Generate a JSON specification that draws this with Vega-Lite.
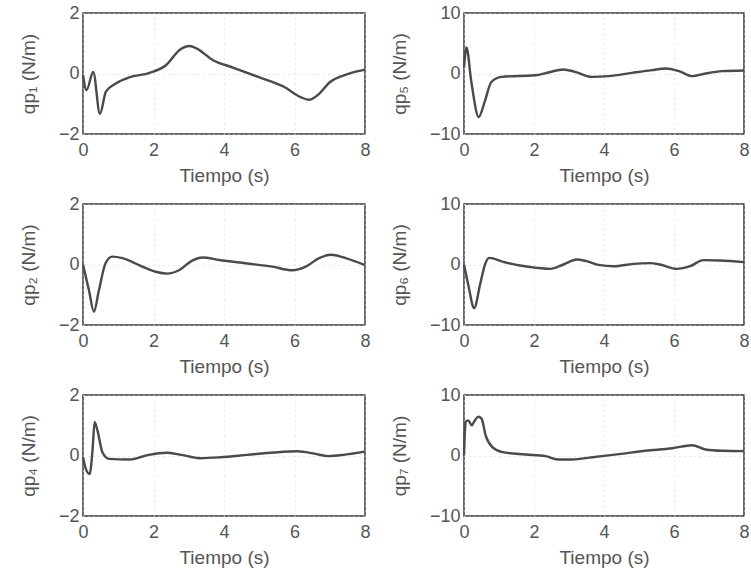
{
  "$schema": "https://vega.github.io/schema/vega-lite/v6.json",
  "background": "white",
  "padding": {"left": 18, "top": 3, "right": 2, "bottom": 2},
  "datasets": {
    "qp1": [
      {"t": 0, "v": -0.05}, {"t": 0.1, "v": -0.55}, {"t": 0.29, "v": 0.05}, {"t": 0.48, "v": -1.33},
      {"t": 0.65, "v": -0.6}, {"t": 0.93, "v": -0.33}, {"t": 1.31, "v": -0.13}, {"t": 1.89, "v": 0.02},
      {"t": 2.36, "v": 0.28}, {"t": 2.74, "v": 0.78}, {"t": 3.03, "v": 0.91}, {"t": 3.22, "v": 0.83},
      {"t": 3.69, "v": 0.44}, {"t": 4.27, "v": 0.19}, {"t": 5.03, "v": -0.14}, {"t": 5.7, "v": -0.44},
      {"t": 6.17, "v": -0.78}, {"t": 6.41, "v": -0.87}, {"t": 6.65, "v": -0.72}, {"t": 7.01, "v": -0.28},
      {"t": 7.5, "v": -0.02}, {"t": 8, "v": 0.13}
    ],
    "qp5": [
      {"t": 0, "v": 1}, {"t": 0.07, "v": 4.3}, {"t": 0.21, "v": -1.4}, {"t": 0.42, "v": -7.2},
      {"t": 0.59, "v": -4.7}, {"t": 0.78, "v": -1.4}, {"t": 1.07, "v": -0.55}, {"t": 2.03, "v": -0.3},
      {"t": 2.41, "v": 0.17}, {"t": 2.84, "v": 0.67}, {"t": 3.17, "v": 0.28}, {"t": 3.65, "v": -0.55},
      {"t": 4.13, "v": -0.44}, {"t": 4.8, "v": 0.11}, {"t": 5.37, "v": 0.56}, {"t": 5.76, "v": 0.83},
      {"t": 6.14, "v": 0.39}, {"t": 6.52, "v": -0.44}, {"t": 6.9, "v": 0}, {"t": 7.38, "v": 0.39},
      {"t": 8, "v": 0.5}
    ],
    "qp2": [
      {"t": 0, "v": 0}, {"t": 0.17, "v": -0.86}, {"t": 0.31, "v": -1.56}, {"t": 0.45, "v": -0.86},
      {"t": 0.64, "v": 0.04}, {"t": 0.83, "v": 0.26}, {"t": 1.12, "v": 0.21}, {"t": 1.59, "v": -0.02},
      {"t": 2.06, "v": -0.24}, {"t": 2.39, "v": -0.3}, {"t": 2.72, "v": -0.19}, {"t": 3.1, "v": 0.13},
      {"t": 3.39, "v": 0.23}, {"t": 3.86, "v": 0.15}, {"t": 4.61, "v": 0.04}, {"t": 5.37, "v": -0.07},
      {"t": 5.94, "v": -0.19}, {"t": 6.32, "v": -0.07}, {"t": 6.7, "v": 0.21}, {"t": 7.03, "v": 0.32},
      {"t": 7.45, "v": 0.21}, {"t": 8, "v": -0.02}
    ],
    "qp6": [
      {"t": 0, "v": 0}, {"t": 0.12, "v": -3.3}, {"t": 0.29, "v": -7.2}, {"t": 0.46, "v": -3.3},
      {"t": 0.6, "v": 0}, {"t": 0.72, "v": 1.1}, {"t": 1.12, "v": 0.44}, {"t": 1.6, "v": -0.17},
      {"t": 2.08, "v": -0.56}, {"t": 2.46, "v": -0.72}, {"t": 2.84, "v": 0}, {"t": 3.22, "v": 0.83},
      {"t": 3.5, "v": 0.56}, {"t": 3.89, "v": -0.11}, {"t": 4.27, "v": -0.28}, {"t": 4.84, "v": 0.11},
      {"t": 5.31, "v": 0.22}, {"t": 5.6, "v": 0}, {"t": 6.08, "v": -0.72}, {"t": 6.46, "v": -0.28},
      {"t": 6.84, "v": 0.72}, {"t": 7.31, "v": 0.67}, {"t": 8, "v": 0.39}
    ],
    "qp4": [
      {"t": 0, "v": -0.06}, {"t": 0.08, "v": -0.44}, {"t": 0.19, "v": -0.61}, {"t": 0.27, "v": 0.17},
      {"t": 0.33, "v": 1.11}, {"t": 0.41, "v": 0.83}, {"t": 0.55, "v": 0.11}, {"t": 0.74, "v": -0.11},
      {"t": 1.32, "v": -0.13}, {"t": 1.79, "v": 0}, {"t": 2.37, "v": 0.09}, {"t": 2.75, "v": 0.03},
      {"t": 3.32, "v": -0.09}, {"t": 3.9, "v": -0.06}, {"t": 4.66, "v": 0.02}, {"t": 5.42, "v": 0.1},
      {"t": 6.09, "v": 0.14}, {"t": 6.57, "v": 0.06}, {"t": 6.95, "v": -0.02}, {"t": 7.43, "v": 0.03},
      {"t": 8, "v": 0.13}
    ],
    "qp7": [
      {"t": 0, "v": 0}, {"t": 0.03, "v": 4.5}, {"t": 0.05, "v": 5.6}, {"t": 0.12, "v": 5.8},
      {"t": 0.22, "v": 5}, {"t": 0.31, "v": 5.8}, {"t": 0.41, "v": 6.4}, {"t": 0.5, "v": 6.1},
      {"t": 0.62, "v": 3.3}, {"t": 0.81, "v": 1.4}, {"t": 1.1, "v": 0.56}, {"t": 1.76, "v": 0.17},
      {"t": 2.33, "v": -0.11}, {"t": 2.71, "v": -0.67}, {"t": 3.1, "v": -0.67}, {"t": 3.67, "v": -0.28},
      {"t": 4.43, "v": 0.22}, {"t": 5.19, "v": 0.78}, {"t": 5.95, "v": 1.2}, {"t": 6.52, "v": 1.7},
      {"t": 6.9, "v": 1.0}, {"t": 7.38, "v": 0.78}, {"t": 8, "v": 0.72}
    ]
  },
  "spacing": 8,
  "vconcat": [
    {
      "spacing": 18,
      "hconcat": [
        {
          "width": 282, "height": 121,
          "data": {"name": "qp1"},
          "mark": {"type": "line"},
          "encoding": {
            "x": {"field": "t", "type": "quantitative", "scale": {"domain": [0, 8], "nice": false}, "axis": {"title": "Tiempo (s)", "values": [0, 2, 4, 6, 8]}},
            "y": {"field": "v", "type": "quantitative", "scale": {"domain": [-2, 2], "nice": false}, "axis": {"title": "qp₁ (N/m)", "values": [-2, 0, 2]}}
          }
        },
        {
          "width": 280, "height": 121,
          "data": {"name": "qp5"},
          "mark": {"type": "line"},
          "encoding": {
            "x": {"field": "t", "type": "quantitative", "scale": {"domain": [0, 8], "nice": false}, "axis": {"title": "Tiempo (s)", "values": [0, 2, 4, 6, 8]}},
            "y": {"field": "v", "type": "quantitative", "scale": {"domain": [-10, 10], "nice": false}, "axis": {"title": "qp₅ (N/m)", "values": [-10, 0, 10]}}
          }
        }
      ]
    },
    {
      "spacing": 18,
      "hconcat": [
        {
          "width": 282, "height": 121,
          "data": {"name": "qp2"},
          "mark": {"type": "line"},
          "encoding": {
            "x": {"field": "t", "type": "quantitative", "scale": {"domain": [0, 8], "nice": false}, "axis": {"title": "Tiempo (s)", "values": [0, 2, 4, 6, 8]}},
            "y": {"field": "v", "type": "quantitative", "scale": {"domain": [-2, 2], "nice": false}, "axis": {"title": "qp₂ (N/m)", "values": [-2, 0, 2]}}
          }
        },
        {
          "width": 280, "height": 121,
          "data": {"name": "qp6"},
          "mark": {"type": "line"},
          "encoding": {
            "x": {"field": "t", "type": "quantitative", "scale": {"domain": [0, 8], "nice": false}, "axis": {"title": "Tiempo (s)", "values": [0, 2, 4, 6, 8]}},
            "y": {"field": "v", "type": "quantitative", "scale": {"domain": [-10, 10], "nice": false}, "axis": {"title": "qp₆ (N/m)", "values": [-10, 0, 10]}}
          }
        }
      ]
    },
    {
      "spacing": 18,
      "hconcat": [
        {
          "width": 282, "height": 121,
          "data": {"name": "qp4"},
          "mark": {"type": "line"},
          "encoding": {
            "x": {"field": "t", "type": "quantitative", "scale": {"domain": [0, 8], "nice": false}, "axis": {"title": "Tiempo (s)", "values": [0, 2, 4, 6, 8]}},
            "y": {"field": "v", "type": "quantitative", "scale": {"domain": [-2, 2], "nice": false}, "axis": {"title": "qp₄ (N/m)", "values": [-2, 0, 2]}}
          }
        },
        {
          "width": 280, "height": 121,
          "data": {"name": "qp7"},
          "mark": {"type": "line"},
          "encoding": {
            "x": {"field": "t", "type": "quantitative", "scale": {"domain": [0, 8], "nice": false}, "axis": {"title": "Tiempo (s)", "values": [0, 2, 4, 6, 8]}},
            "y": {"field": "v", "type": "quantitative", "scale": {"domain": [-10, 10], "nice": false}, "axis": {"title": "qp₇ (N/m)", "values": [-10, 0, 10]}}
          }
        }
      ]
    }
  ],
  "config": {
    "font": "Liberation Sans",
    "view": {"stroke": "#3a3a3a", "strokeWidth": 1.5},
    "line": {"color": "#4a4a4a", "strokeWidth": 2.4, "interpolate": "monotone"},
    "axis": {
      "labelFont": "Liberation Sans", "titleFont": "Liberation Sans",
      "labelFontSize": 18, "titleFontSize": 19, "titleFontWeight": "normal",
      "labelColor": "#555555", "titleColor": "#555555",
      "domain": false, "ticks": false,
      "grid": true, "gridColor": "#d0d0d0", "gridDash": [1, 4], "gridWidth": 1,
      "labelFlush": false, "labelOverlap": false, "labelPadding": 4
    },
    "axisX": {"titlePadding": 7, "labelPadding": 7},
    "axisY": {"titlePadding": 20}
  }
}
